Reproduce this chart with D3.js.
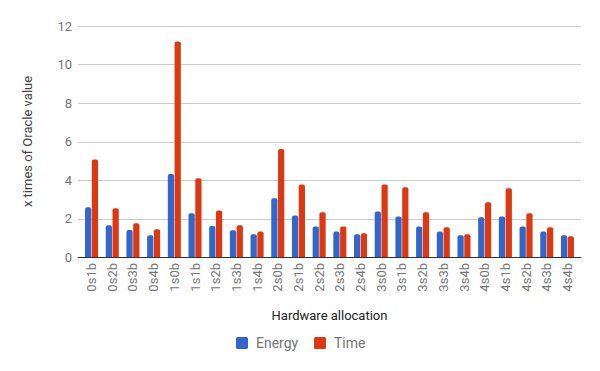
<!DOCTYPE html>
<html>
<head>
<meta charset="utf-8">
<script src="https://cdn.jsdelivr.net/npm/d3@7"></script>
<style>
  body { margin: 0; background: #fff; }
  svg { font-family: Roboto, "Noto Sans", sans-serif; }
</style>
</head>
<body>
<svg id="chart" width="600" height="371"></svg>
<script>
// data
const categories = ["0s1b", "0s2b", "0s3b", "0s4b", "1s0b", "1s1b", "1s2b", "1s3b", "1s4b",
  "2s0b", "2s1b", "2s2b", "2s3b", "2s4b", "3s0b", "3s1b", "3s2b", "3s3b", "3s4b",
  "4s0b", "4s1b", "4s2b", "4s3b", "4s4b"];
const energy = [2.58, 1.65, 1.40, 1.13, 4.31, 2.27, 1.61, 1.39, 1.18,
  3.05, 2.16, 1.59, 1.33, 1.18, 2.37, 2.11, 1.59, 1.33, 1.13,
  2.06, 2.11, 1.59, 1.33, 1.13];
const time = [5.07, 2.53, 1.75, 1.44, 11.2, 4.09, 2.42, 1.65, 1.33,
  5.61, 3.77, 2.32, 1.59, 1.23, 3.77, 3.62, 2.32, 1.54, 1.18,
  2.84, 3.57, 2.27, 1.54, 1.08];
const seriesNames = ["Energy", "Time"];
const yTicks = [0, 2, 4, 6, 8, 10, 12];

const colors = ["#3366cc", "#dc3912"];
const svg = d3.select("#chart");
const padding = { top: 26, right: 19, bottom: 114, left: 78 };
const width = +svg.attr("width");
const height = +svg.attr("height");

const rows = categories.map((c, i) => ({ cat: c, values: [energy[i], time[i]] }));

// scales
const xScale = d3.scaleBand()
  .domain(categories)
  .range([padding.left, width - padding.right])
  .paddingInner(0.37)
  .paddingOuter(0.34);

const xInner = d3.scaleBand()
  .domain(d3.range(seriesNames.length))
  .range([0, xScale.bandwidth()])
  .paddingInner(0.08);

const yScale = d3.scaleLinear()
  .domain([0, 12])
  .range([height - padding.bottom, padding.top]);

// gridlines
svg.append("g")
  .selectAll("line")
  .data(yTicks)
  .join("line")
    .attr("x1", padding.left)
    .attr("x2", width - padding.right)
    .attr("y1", d => Math.round(yScale(d)) + 0.5)
    .attr("y2", d => Math.round(yScale(d)) + 0.5)
    .attr("stroke", "#cccccc");

// y tick labels
const yAxis = d3.axisLeft(yScale)
  .tickValues(yTicks)
  .tickSize(0)
  .tickPadding(6);

svg.append("g")
  .attr("transform", `translate(${padding.left}, 0)`)
  .call(yAxis)
  .call(g => g.select(".domain").remove())
  .selectAll("text")
    .attr("font-size", 13)
    .attr("font-family", "Roboto")
    .attr("fill", "#757575");

// bars with slightly rounded tops
function barPath(x, y, w, h) {
  const r = Math.min(2, w / 2, h);
  return `M${x},${y + h}V${y + r}Q${x},${y} ${x + r},${y}H${x + w - r}Q${x + w},${y} ${x + w},${y + r}V${y + h}Z`;
}

const groups = svg.append("g")
  .selectAll("g")
  .data(rows)
  .join("g")
    .attr("transform", d => `translate(${xScale(d.cat)}, 0)`);

groups.selectAll("path")
  .data(d => d.values)
  .join("path")
    .attr("fill", (d, i) => colors[i])
    .attr("d", (d, i) => {
      const y = yScale(d);
      return barPath(xInner(i), y, xInner.bandwidth(), yScale(0) - y);
    });

// baseline
svg.append("line")
  .attr("x1", padding.left)
  .attr("x2", width - padding.right)
  .attr("y1", yScale(0) + 0.5)
  .attr("y2", yScale(0) + 0.5)
  .attr("stroke", "#333333");

// x tick labels, rotated
const xAxis = d3.axisBottom(xScale).tickSize(0).tickPadding(0);
svg.append("g")
  .attr("transform", `translate(0, ${yScale(0)})`)
  .call(xAxis)
  .call(g => g.select(".domain").remove())
  .selectAll("text")
    .attr("font-size", 13)
    .attr("font-family", "Roboto")
    .attr("fill", "#757575")
    .attr("transform", "rotate(-90)")
    .attr("x", -6)
    .attr("y", 0)
    .attr("dy", "0.35em")
    .style("text-anchor", "end");

// axis titles
svg.append("text")
  .attr("transform", "rotate(-90)")
  .attr("x", -(yScale(6)))
  .attr("y", 32)
  .attr("font-size", 13)
  .attr("fill", "#444")
  .style("text-anchor", "middle")
  .text("x times of Oracle value");

svg.append("text")
  .attr("x", (padding.left + width - padding.right) / 2)
  .attr("y", 320)
  .attr("font-size", 13)
  .attr("fill", "#222")
  .style("text-anchor", "middle")
  .text("Hardware allocation");

// legend
const legendX = [236, 314];
const legend = svg.append("g")
  .selectAll("g")
  .data(seriesNames)
  .join("g")
    .attr("transform", (d, i) => `translate(${legendX[i]}, 337)`);

legend.append("rect")
  .attr("width", 12)
  .attr("height", 12)
  .attr("rx", 1.5)
  .attr("fill", (d, i) => colors[i]);

legend.append("text")
  .attr("x", 20)
  .attr("y", 6)
  .attr("dy", "0.35em")
  .attr("font-size", 14)
  .attr("fill", "#757575")
  .text(d => d);
</script>
</body>
</html>
